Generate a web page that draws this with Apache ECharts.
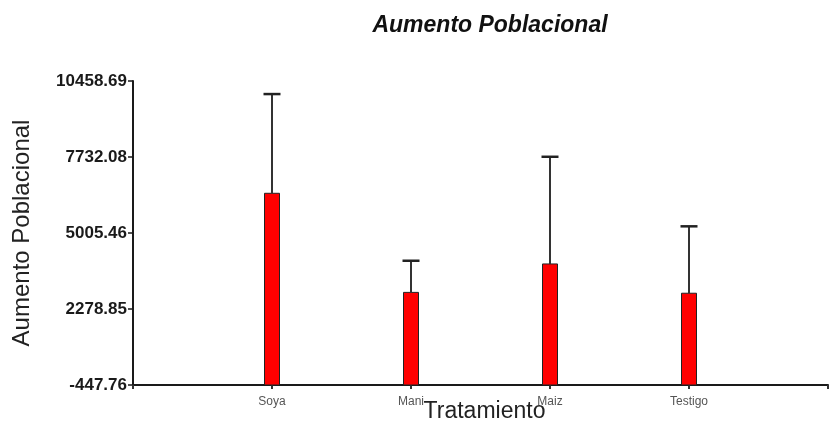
<!DOCTYPE html>
<html>
<head>
<meta charset="utf-8">
<script src="https://cdn.jsdelivr.net/npm/echarts@6/dist/echarts.min.js"></script>
<style>
  html, body { margin: 0; padding: 0; background: #ffffff; }
  #chart { width: 831px; height: 443px; }
</style>
</head>
<body>
<div id="chart"></div>
<script>
// Treatments and population increase (mean and standard deviation)
const categories = ['Soya', 'Mani', 'Maiz', 'Testigo'];
const means = [6430, 2875, 3895, 2845];
const deviations = [3560, 1135, 3845, 2400];
const yTicks = [-447.76, 2278.85, 5005.46, 7732.08, 10458.69];

const yMin = yTicks[0];
const yMax = yTicks[yTicks.length - 1];

// One empty slot on each side so the treatments sit between the axis ends
const axisCats = [''].concat(categories, ['']);
// [category index, mean, mean + sd]
const rows = means.map((m, i) => [i + 1, m, m + deviations[i]]);

const chart = echarts.init(document.getElementById('chart'), null, { renderer: 'canvas' });

chart.setOption({
  animation: false,
  backgroundColor: '#ffffff',
  title: {
    text: 'Aumento Poblacional',
    left: 485,
    top: 8,
    textAlign: 'center',
    textStyle: {
      fontFamily: 'Liberation Sans, Arial, sans-serif',
      fontSize: 23,
      fontWeight: 'bold',
      fontStyle: 'italic',
      color: '#111111',
      lineHeight: 26
    }
  },
  grid: { left: 133, right: 0, top: 81, bottom: 58 },
  xAxis: {
    type: 'category',
    data: axisCats,
    boundaryGap: false,
    name: 'Tratamiento',
    nameLocation: 'middle',
    nameGap: 15,
    nameMoveOverlap: false,
    nameTextStyle: {
      fontFamily: 'Liberation Sans, Arial, sans-serif',
      fontSize: 23,
      color: '#222222',
      padding: [0, 0, 0, 8]
    },
    axisLine: { onZero: false, lineStyle: { color: '#1a1a1a', width: 2 } },
    axisTick: { show: true, length: 4, inside: false, lineStyle: { color: '#333333', width: 2 } },
    axisLabel: {
      fontFamily: 'Liberation Sans, Arial, sans-serif',
      fontSize: 12,
      color: '#555555',
      margin: 11,
      interval: 0
    },
    splitLine: { show: false }
  },
  yAxis: {
    type: 'value',
    min: yMin,
    max: yMax,
    name: 'Aumento Poblacional',
    nameLocation: 'middle',
    nameRotate: 90,
    nameGap: 99,
    nameMoveOverlap: false,
    nameTextStyle: {
      fontFamily: 'Liberation Sans, Arial, sans-serif',
      fontSize: 24,
      color: '#222222'
    },
    axisLine: { show: true, onZero: false, lineStyle: { color: '#1a1a1a', width: 2 } },
    axisTick: {
      show: true,
      length: 5,
      customValues: yTicks,
      lineStyle: { color: '#1a1a1a', width: 1.5 }
    },
    axisLabel: {
      customValues: yTicks,
      formatter: v => v.toFixed(2),
      fontFamily: 'Liberation Sans, Arial, sans-serif',
      fontSize: 17,
      fontWeight: 'bold',
      color: '#1a1a1a',
      margin: 6
    },
    splitLine: { show: false }
  },
  series: [
    {
      // Bars rise from the bottom of the value axis
      type: 'custom',
      data: rows,
      encode: { x: 0, y: 1 },
      z: 2,
      renderItem: function (params, api) {
        const top = api.coord([api.value(0), api.value(1)]);
        const bottom = api.coord([api.value(0), yMin]);
        const w = 15;
        return {
          type: 'rect',
          shape: { x: top[0] - w / 2, y: top[1], width: w, height: bottom[1] - top[1] },
          style: { fill: '#ff0000', stroke: '#222222', lineWidth: 1 }
        };
      }
    },
    {
      // Error bars: mean up to mean + sd, with a cap
      type: 'custom',
      data: rows,
      encode: { x: 0, y: [1, 2] },
      z: 3,
      renderItem: function (params, api) {
        const base = api.coord([api.value(0), api.value(1)]);
        const top = api.coord([api.value(0), api.value(2)]);
        const half = 8.5;
        return {
          type: 'group',
          children: [
            { type: 'line', shape: { x1: top[0], y1: base[1], x2: top[0], y2: top[1] }, style: { stroke: '#333333', lineWidth: 2 } },
            { type: 'line', shape: { x1: top[0] - half, y1: top[1], x2: top[0] + half, y2: top[1] }, style: { stroke: '#222222', lineWidth: 2.5 } }
          ]
        };
      }
    }
  ]
});
</script>
</body>
</html>
